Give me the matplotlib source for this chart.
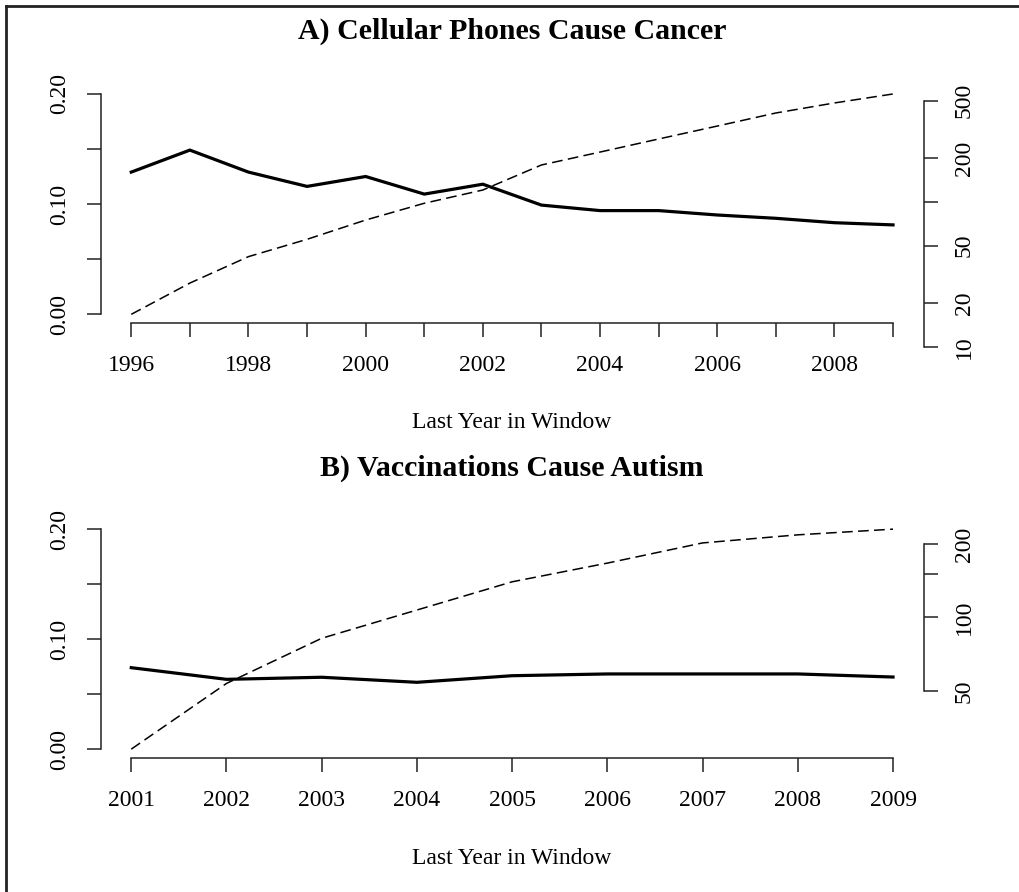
import numpy as np
import matplotlib
matplotlib.use("Agg")
import matplotlib.pyplot as plt
from matplotlib.lines import Line2D

plt.rcParams['font.family'] = ['Liberation Serif', 'DejaVu Serif']

# panel A: cellular phones / cancer
years_a = [1996, 1997, 1998, 1999, 2000, 2001, 2002, 2003, 2004, 2005, 2006, 2007, 2008, 2009]
share_a = [0.129, 0.149, 0.129, 0.116, 0.125, 0.109, 0.118, 0.099, 0.094, 0.094, 0.090, 0.087, 0.083, 0.081]
count_a = [16.8, 27.6, 42, 55.3, 75.1, 98, 121, 180, 221, 272, 334, 411, 482, 556]
xticks_a = years_a
xlabels_a = ['1996', '', '1998', '', '2000', '', '2002', '', '2004', '', '2006', '', '2008', '']
rticks_a = [10, 20, 50, 100, 200, 500]
rlabels_a = ['10', '20', '50', '', '200', '500']

# panel B: vaccinations / autism
years_b = [2001, 2002, 2003, 2004, 2005, 2006, 2007, 2008, 2009]
share_b = [0.0742, 0.0636, 0.0655, 0.0609, 0.0669, 0.0685, 0.0685, 0.0685, 0.0657]
count_b = [28.9, 53.7, 82.2, 107.3, 140, 167, 202, 218, 230]
xticks_b = years_b
xlabels_b = [str(y) for y in years_b]
rticks_b = [50, 100, 150, 200]
rlabels_b = ['50', '100', '', '200']

yticks = [0.00, 0.05, 0.10, 0.15, 0.20]
ylabels = ['0.00', '', '0.10', '', '0.20']

W, H = 1019, 892
fig = plt.figure(figsize=(W / 100, H / 100), dpi=100)
fs = 17
axcol = '#222222'


def px_ax(left, top, right, bottom):
    return fig.add_axes([left / W, 1 - bottom / H, (right - left) / W, (bottom - top) / H])


def panel(top, bottom, years, share, count, xticks, xlabels, rticks, rlabels, rtop, rbottom, rlim):
    pad_x = 0.04 * (years[-1] - years[0])
    ax = px_ax(100.8, top, 923.5, bottom)
    ax.plot(years, share, color='black', lw=2.3, solid_joinstyle='miter')
    ax.set_xlim(years[0] - pad_x, years[-1] + pad_x)
    ax.set_ylim(-0.008, 0.208)
    for s in ['top', 'right']:
        ax.spines[s].set_visible(False)
    ax.spines['left'].set_bounds(0, 0.2)
    ax.spines['bottom'].set_bounds(xticks[0], xticks[-1])
    ax.set_xticks(xticks)
    ax.set_xticklabels(xlabels, fontsize=fs)
    ax.set_yticks(yticks)
    ax.set_yticklabels(ylabels, fontsize=fs, rotation=90, va='center')
    ax.tick_params(axis='x', length=10, width=1.1, pad=13, color=axcol)
    ax.tick_params(axis='y', length=10, width=1.1, pad=12, color=axcol)
    for s in ['left', 'bottom']:
        ax.spines[s].set_linewidth(1.1)
        ax.spines[s].set_color(axcol)

    # right-hand log axis, taller than the plot so its ticks can hang below
    ax2 = px_ax(100.8, rtop, 923.5, rbottom)
    ax2.patch.set_visible(False)
    ax2.plot(years, count, color='black', lw=1.1, ls=(0, (7, 3.5)))
    ax2.set_xlim(ax.get_xlim())
    ax2.set_yscale('log')
    ax2.set_ylim(*rlim)
    for s in ['top', 'left', 'bottom']:
        ax2.spines[s].set_visible(False)
    ax2.spines['right'].set_bounds(rticks[0], rticks[-1])
    ax2.spines['right'].set_linewidth(1.1)
    ax2.spines['right'].set_color(axcol)
    ax2.set_xticks([])
    ax2.yaxis.tick_right()
    ax2.set_yticks(rticks)
    ax2.set_yticklabels(rlabels, fontsize=fs, rotation=90, va='center')
    ax2.yaxis.set_minor_locator(matplotlib.ticker.NullLocator())
    ax2.tick_params(axis='y', length=10, width=1.1, pad=12, color=axcol)
    return ax


# top panel: log axis 10 sits at y=347, 145 px per decade
ra_bot, ra_top = 350, 85.2
lim_a = (10 ** (1 + (347 - ra_bot) / 145), 10 ** (1 + (347 - ra_top) / 145))
panel(85.2, 322.8, years_a, share_a, count_a, xticks_a, xlabels_a, rticks_a, rlabels_a, ra_top, ra_bot, lim_a)

# bottom panel: log axis 50 sits at y=691, 244 px per decade
rb_bot, rb_top = 758.1, 520.5
lim_b = (50 * 10 ** ((691 - rb_bot) / 244.2), 50 * 10 ** ((691 - rb_top) / 244.2))
panel(520.5, 758.1, years_b, share_b, count_b, xticks_b, xlabels_b, rticks_b, rlabels_b, rb_top, rb_bot, lim_b)

cx = 512.1 / W
fig.text(cx, 1 - 31 / H, 'A) Cellular Phones Cause Cancer', ha='center', va='center',
         fontsize=21.5, fontweight='bold')
fig.text(cx, 1 - 423 / H, 'Last Year in Window', ha='center', va='center', fontsize=fs)
fig.text(cx, 1 - 468 / H, 'B) Vaccinations Cause Autism', ha='center', va='center',
         fontsize=21.5, fontweight='bold')
fig.text(cx, 1 - 858 / H, 'Last Year in Window', ha='center', va='center', fontsize=fs)

# frame around the picture (only top and left edges show)
fig.add_artist(Line2D([6 / W, 1], [1 - 6 / H, 1 - 6 / H], color='#222222', lw=2, transform=fig.transFigure))
fig.add_artist(Line2D([6 / W, 6 / W], [0, 1 - 6 / H], color='#222222', lw=2, transform=fig.transFigure))

fig.savefig('out.png', dpi=100)
